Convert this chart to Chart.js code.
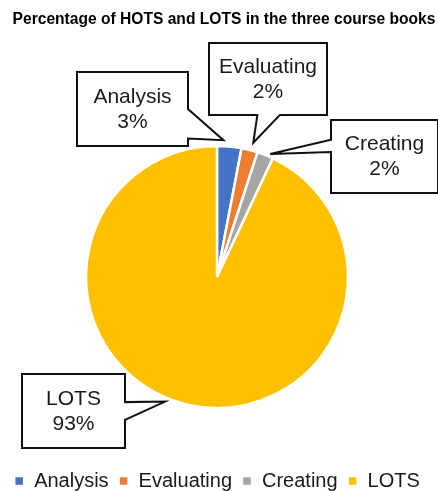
<!DOCTYPE html>
<html>
<head>
<meta charset="utf-8">
<script src="https://cdn.jsdelivr.net/npm/chart.js@4"></script>
<style>
  html, body { margin: 0; padding: 0; background: #fff; }
  #wrap { width: 438px; height: 491px; }
</style>
</head>
<body>
<div id="wrap"><canvas id="chartHots"></canvas></div>
<script>
// data
const chartTitle = "Percentage of HOTS and LOTS in the three course books";
const categories = ["Analysis", "Evaluating", "Creating", "LOTS"];
const percents = [3, 2, 2, 93];
const colors = ["#4472C4", "#ED7D31", "#A5A5A5", "#FFC000"];

// callout boxes: box rect, where the wedge leaves the box, where along the slice it points
const callouts = [
    { x: 77, y: 72, w: 111, h: 74, side: "r", b1: 0.5, b2: 0.9, along: 0.25, out: 6 },
    { x: 209, y: 43, w: 118, h: 72, side: "b", b1: 0.41, b2: 0.6, along: 0.6, out: 8 },
    { x: 331, y: 120, w: 107, h: 73, side: "l", b1: 0.27, b2: 0.44, along: 0.75, out: 3 },
    { x: 22, y: 374, w: 103, h: 74, side: "r", b1: 0.38, b2: 0.62, along: 0.53, out: 4 }
];

const calloutPlugin = {
    id: "callouts",
    afterDatasetsDraw(chart) {
        const ctx = chart.ctx;
        const arcs = chart.getDatasetMeta(0).data;
        ctx.save();

        // title, a bit right of the pie centre like the original
        ctx.fillStyle = "#000";
        ctx.font = "bold 15.6px 'Liberation Sans', Arial, sans-serif";
        ctx.textAlign = "center";
        ctx.textBaseline = "middle";
        ctx.fillText(chartTitle, 224, 20);

        callouts.forEach((c, i) => {
            const a = arcs[i];
            const ang = a.startAngle + (a.endAngle - a.startAngle) * c.along;
            const r = a.outerRadius + c.out;
            const tx = a.x + Math.cos(ang) * r;
            const ty = a.y + Math.sin(ang) * r;

            const L = c.x, T = c.y, R = c.x + c.w, B = c.y + c.h;
            ctx.beginPath();
            ctx.moveTo(L, T);
            if (c.side === "t") {
                ctx.lineTo(L + c.w * c.b1, T); ctx.lineTo(tx, ty); ctx.lineTo(L + c.w * c.b2, T);
            }
            ctx.lineTo(R, T);
            if (c.side === "r") {
                ctx.lineTo(R, T + c.h * c.b1); ctx.lineTo(tx, ty); ctx.lineTo(R, T + c.h * c.b2);
            }
            ctx.lineTo(R, B);
            if (c.side === "b") {
                ctx.lineTo(L + c.w * c.b2, B); ctx.lineTo(tx, ty); ctx.lineTo(L + c.w * c.b1, B);
            }
            ctx.lineTo(L, B);
            if (c.side === "l") {
                ctx.lineTo(L, T + c.h * c.b2); ctx.lineTo(tx, ty); ctx.lineTo(L, T + c.h * c.b1);
            }
            ctx.closePath();
            ctx.fillStyle = "#fff";
            ctx.fill();
            ctx.lineWidth = 2;
            ctx.strokeStyle = "#111";
            ctx.lineJoin = "miter";
            ctx.stroke();

            ctx.fillStyle = "#1a1a1a";
            ctx.font = "21px 'Liberation Sans', Arial, sans-serif";
            const cx = L + c.w / 2, cy = T + c.h / 2;
            ctx.fillText(categories[i], cx, cy - 12);
            ctx.fillText(percents[i] + "%", cx, cy + 13);
        });
        ctx.restore();
    }
};

new Chart(document.getElementById("chartHots"), {
    type: "pie",
    data: {
        labels: categories,
        datasets: [{
            data: percents,
            backgroundColor: colors,
            borderColor: "#fff",
            borderWidth: 2.5
        }]
    },
    options: {
        responsive: true,
        maintainAspectRatio: false,
        animation: false,
        radius: 131,
        layout: { padding: { top: 93, bottom: -10, left: 0, right: 4 } },
        plugins: {
            title: { display: false },
            legend: {
                position: "bottom",
                labels: {
                    color: "#1a1a1a",
                    font: { family: "'Liberation Sans', Arial, sans-serif", size: 20 },
                    boxWidth: 10,
                    boxHeight: 10,
                    padding: 10
                }
            },
            tooltip: { enabled: false }
        }
    },
    plugins: [calloutPlugin]
});
</script>
</body>
</html>
